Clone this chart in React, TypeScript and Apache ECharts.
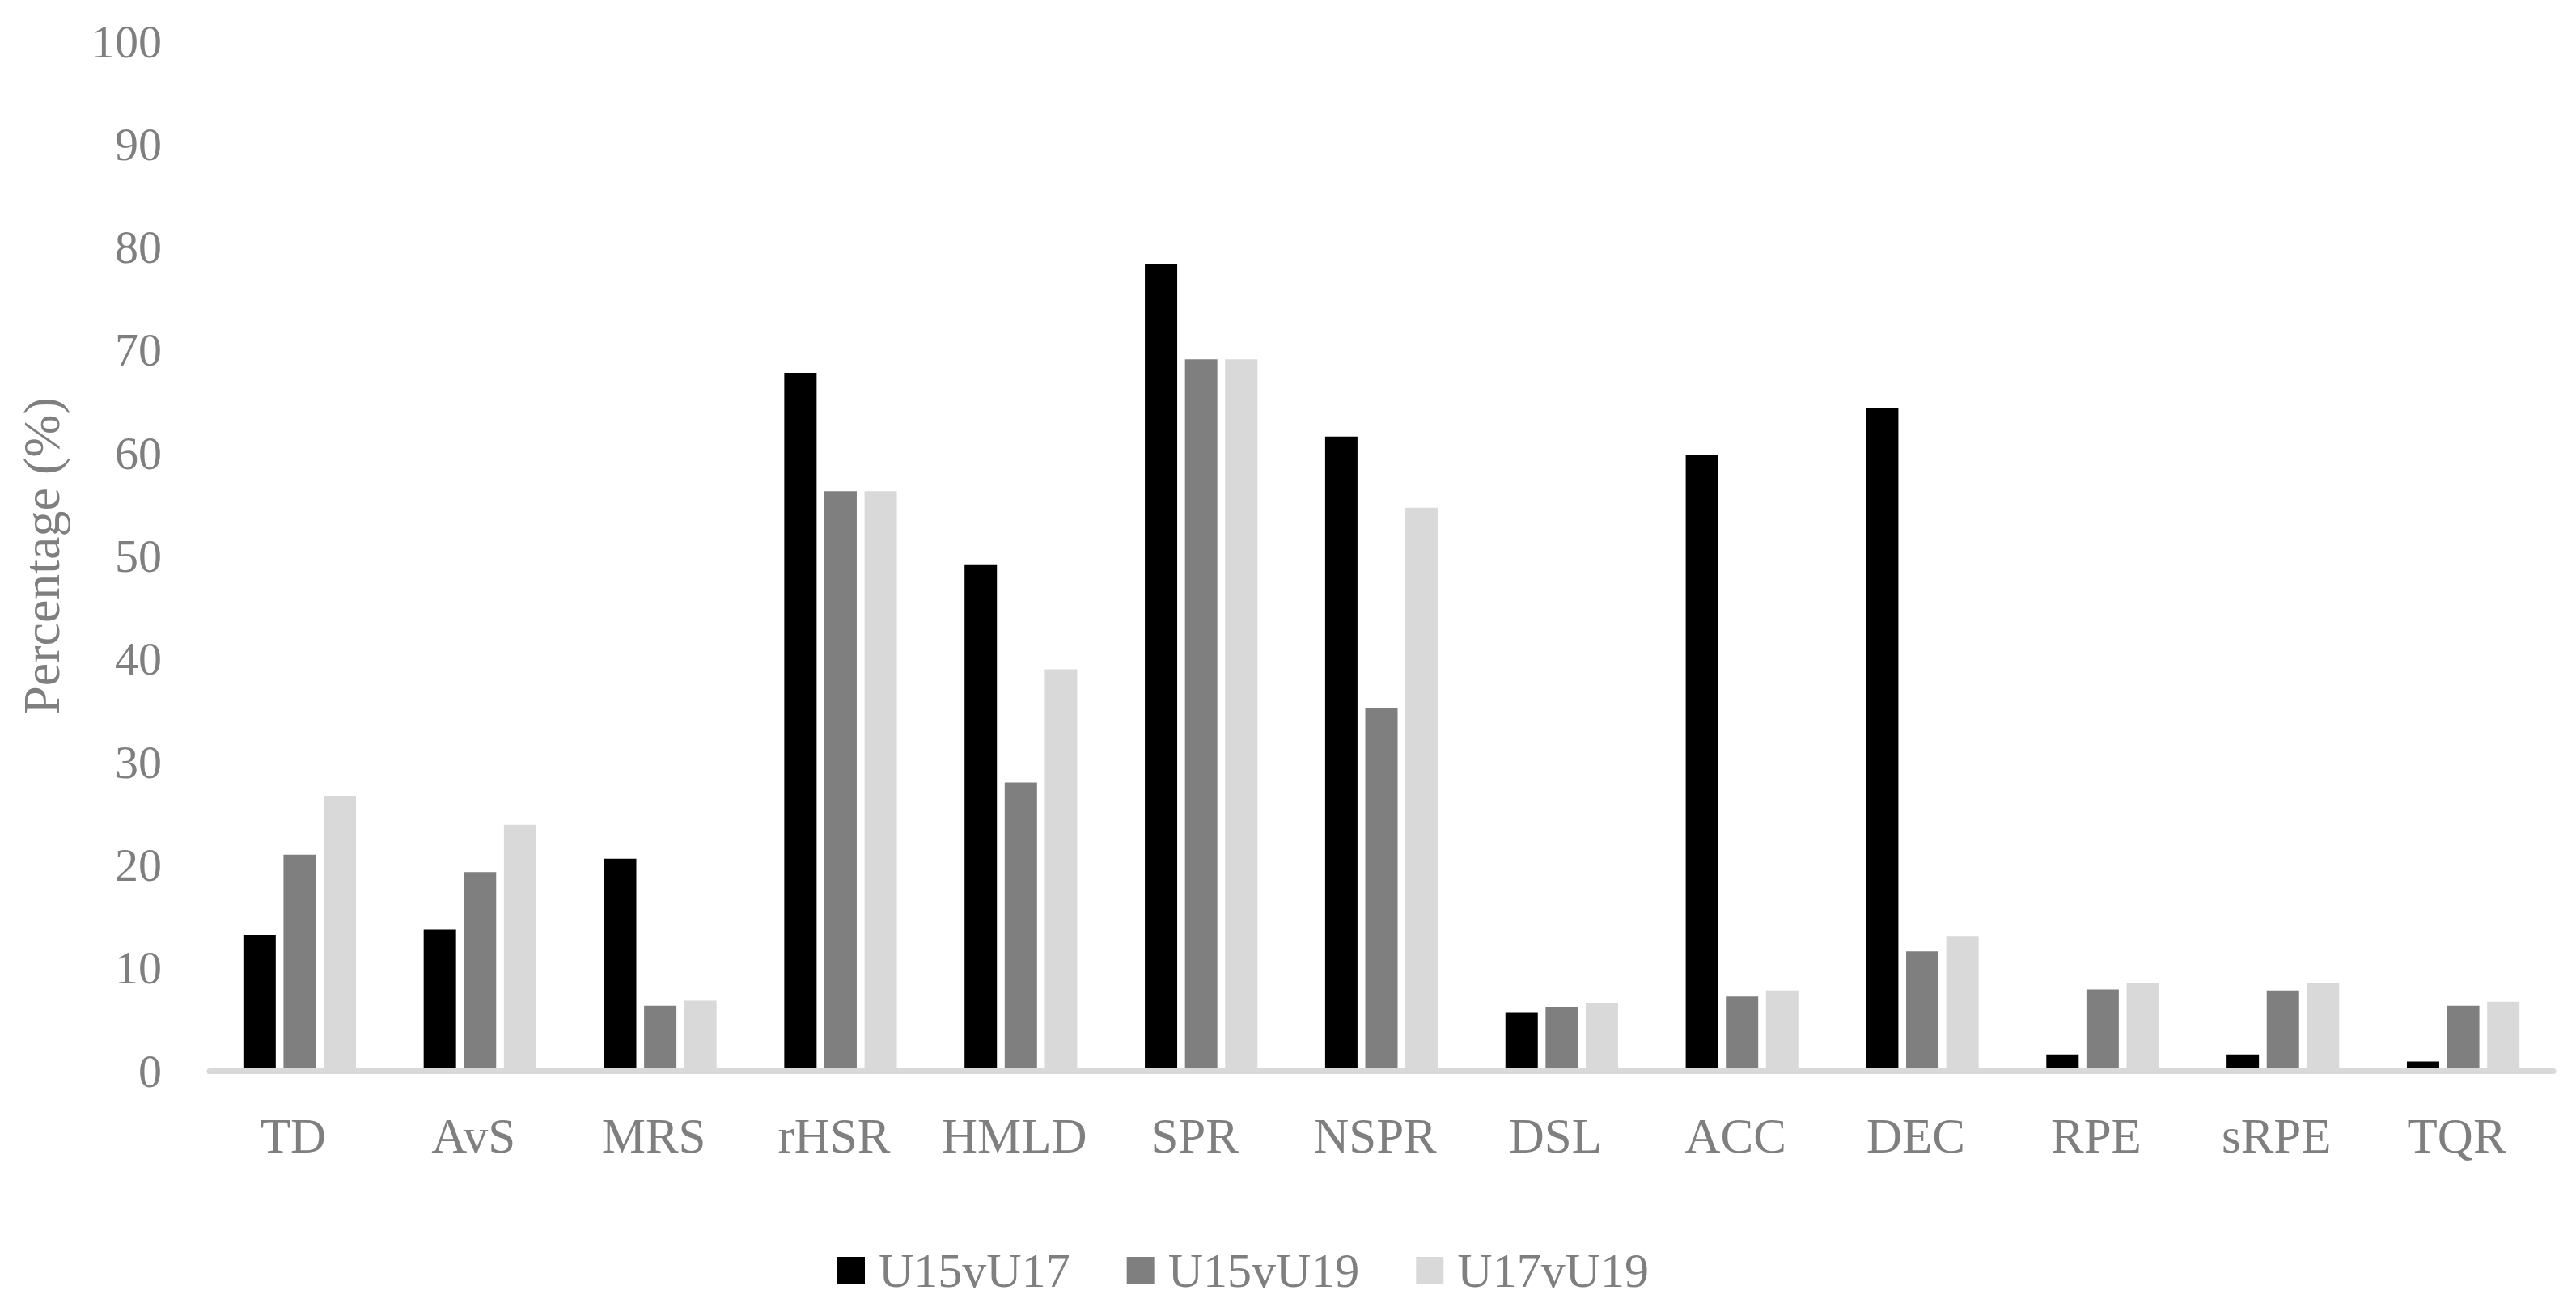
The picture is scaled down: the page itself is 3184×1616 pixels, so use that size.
import React, { useEffect, useRef } from "react";
import * as echarts from "echarts";

const categories = ["TD", "AvS", "MRS", "rHSR", "HMLD", "SPR", "NSPR", "DSL", "ACC", "DEC", "RPE", "sRPE", "TQR"];
const seriesNames = ["U15vU17", "U15vU19", "U17vU19"];
const u15vU17 = [13.2, 13.7, 20.6, 67.8, 49.2, 78.4, 61.6, 5.7, 59.8, 64.4, 1.6, 1.6, 0.9];
const u15vU19 = [21.0, 19.3, 6.3, 56.3, 28.0, 69.1, 35.2, 6.2, 7.2, 11.6, 7.9, 7.8, 6.3];
const u17vU19 = [26.7, 23.9, 6.8, 56.3, 39.0, 69.1, 54.7, 6.6, 7.8, 13.1, 8.5, 8.5, 6.7];
const yMin = 0;
const yMax = 100;
const yInterval = 10;
const yTitle = "Percentage (%)";

const colors = ["#000000", "#7f7f7f", "#d9d9d9"];
const textColor = "#7f7f7f";
const font = "'Liberation Serif', 'DejaVu Serif', serif";

export default function App() {
  const ref = useRef<HTMLDivElement>(null);
  useEffect(() => {
    if (!ref.current) return;
    const chart = echarts.init(ref.current, undefined, { renderer: "svg" });
    const values = [u15vU17, u15vU19, u17vU19];
    chart.setOption({
      animation: false,
      backgroundColor: "#ffffff",
      textStyle: { fontFamily: font },
      grid: { left: 259, right: 28, top: 51, bottom: 292, containLabel: false },
      legend: {
        data: seriesNames,
        left: 1030,
        top: 1536,
        icon: "rect",
        itemWidth: 34,
        itemHeight: 34,
        itemGap: 70,
        textStyle: { color: textColor, fontSize: 60, fontFamily: font, padding: [0, 0, 0, 12] },
      },
      xAxis: {
        type: "category",
        data: categories,
        z: 10,
        axisLine: { show: true, lineStyle: { color: "#d9d9d9", width: 7 } },
        axisTick: { show: false },
        splitLine: { show: false },
        axisLabel: {
          color: textColor,
          fontSize: 61,
          fontFamily: font,
          margin: 50,
          interval: 0,
          padding: [0, 16, 0, 0],
        },
      },
      yAxis: {
        type: "value",
        min: yMin,
        max: yMax,
        interval: yInterval,
        axisLine: { show: false },
        axisTick: { show: false },
        splitLine: { show: false },
        axisLabel: { color: textColor, fontSize: 58, fontFamily: font, margin: 59 },
        name: yTitle,
        nameLocation: "middle",
        nameGap: 176,
        nameTextStyle: { color: textColor, fontSize: 64, fontFamily: font },
      },
      series: seriesNames.map((name, i) => ({
        name,
        type: "bar",
        data: values[i],
        barWidth: 40,
        barGap: "24%",
        itemStyle: { color: colors[i] },
      })),
    });
    return () => chart.dispose();
  }, []);
  return (
    <div
      ref={ref}
      style={{ position: "fixed", left: 0, top: 0, width: 3184, height: 1616, background: "#ffffff" }}
    />
  );
}
